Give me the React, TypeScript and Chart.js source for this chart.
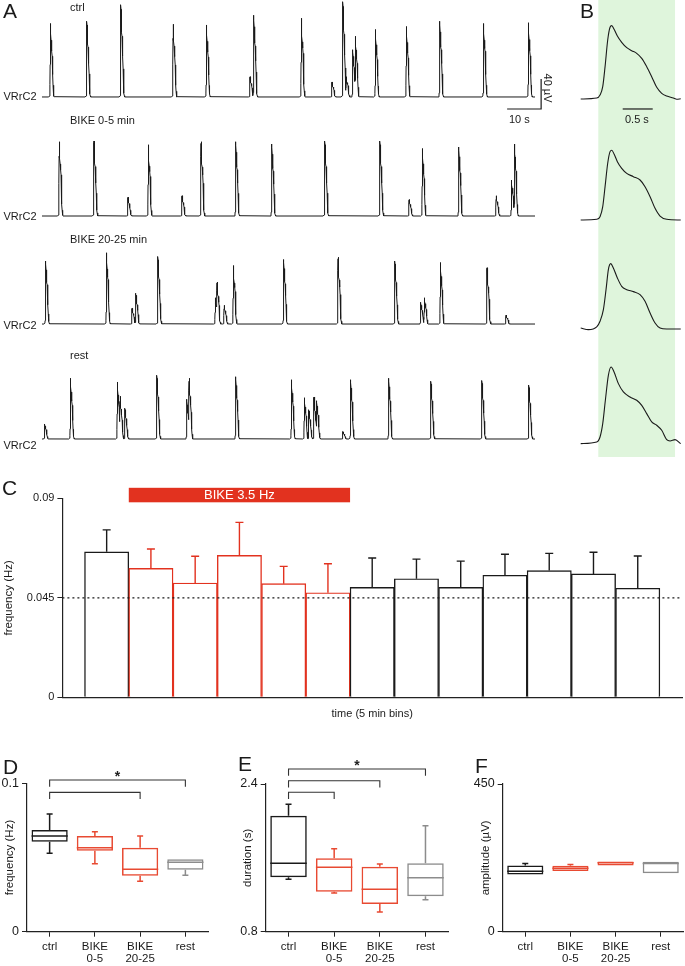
import React, { useEffect, useRef } from 'react';
import { Chart, registerables } from 'chart.js';
Chart.register(...registerables);

const FONT = '"Liberation Sans", Arial, Helvetica, sans-serif';
const TEXT = '#1a1a1a';
const AXIS = '#222222';
const BLACK = '#1a1a1a';
const RED = '#e2321f';
const BOX_RED = '#e84a32';
const GRAY = '#8c8c8c';
const GREEN = '#dff5dc';

// ---------------- Panel A: burst times (s) and peak amplitudes (µV) ----------------
const A_TRACE_LABELS = ['ctrl', 'BIKE 0-5 min', 'BIKE 20-25 min', 'rest'];
const A_TRACE_END_S = 145;
const CTRL_BURST_S = [2.5, 13.2, 23.2, 38.6, 48.4, 61.2, 62.3, 76.3, 85.3, 88.5, 89.5, 91.4, 92.2, 98.1, 107.2, 117.0, 129.9, 143.1];
const CTRL_BURST_UV = [98, 101, 123, 97, 96, 27, 109, 105, 20, 127, 27, 63, 81, 90, 94, 101, 98, 99];
const BIKE05_BURST_S = [5.1, 15.3, 25.3, 31.3, 41.2, 46.8, 57.0, 67.6, 83.2, 99.4, 108.0, 111.9, 122.6, 133.6, 138.1, 139.0];
const BIKE05_BURST_UV = [99, 100, 25, 95, 27, 99, 99, 96, 100, 100, 22, 90, 92, 27, 48, 96];
const BIKE2025_BURST_S = [1.1, 19.0, 26.5, 27.6, 34.1, 51.0, 51.5, 53.6, 56.3, 71.1, 87.1, 103.8, 111.4, 112.5, 117.2, 130.9, 136.5];
const BIKE2025_BURST_UV = [84, 95, 21, 41, 90, 35, 56, 25, 78, 86, 89, 84, 29, 35, 82, 75, 12];
const REST_BURST_S = [0.8, 8.4, 22.2, 23.0, 24.4, 33.8, 42.6, 43.3, 57.0, 73.4, 77.2, 78.5, 80.0, 80.8, 88.5, 90.8, 102.0, 114.4, 129.4, 143.2];
const REST_BURST_UV = [20, 81, 76, 57, 41, 85, 53, 81, 83, 79, 55, 39, 56, 51, 10, 79, 81, 77, 78, 72];

// ---------------- Panel B: averaged burst waveforms (time s, µV) ----------------
const WAVE_CTRL_T = [0, 0.267, 0.322, 0.367, 0.406, 0.45, 0.489, 0.517, 0.556, 0.611, 0.683, 0.767, 0.85, 0.933, 1.017, 1.1, 1.183, 1.267, 1.35, 1.433, 1.544, 1.6, 1.667];
const WAVE_CTRL_UV = [0, 1.3, 5.3, 16.4, 43.1, 78.7, 95.6, 97.8, 92.9, 84, 75.6, 68.4, 64.4, 60.9, 54.2, 43.1, 29.8, 15.6, 7.6, 4, 1.3, -0.4, 0.4];
const WAVE_B05_T = [0, 0.267, 0.322, 0.367, 0.406, 0.45, 0.489, 0.517, 0.556, 0.611, 0.683, 0.767, 0.878, 0.989, 1.072, 1.156, 1.239, 1.322, 1.433, 1.667];
const WAVE_B05_UV = [0, 0.9, 4.4, 17.8, 44.4, 75.6, 91.1, 92.9, 88, 77.8, 68.9, 62.2, 57.8, 53.3, 44.4, 31.1, 15.6, 5.3, 0.9, 0];
const WAVE_B2025_T = [0, 0.128, 0.267, 0.322, 0.378, 0.422, 0.461, 0.5, 0.544, 0.611, 0.683, 0.767, 0.878, 0.989, 1.072, 1.156, 1.239, 1.322, 1.433, 1.667];
const WAVE_B2025_UV = [1.3, -0.9, 2.7, 10.2, 25.8, 52.4, 79.1, 87.1, 81.3, 68, 56.9, 52.4, 49.8, 45.8, 36.9, 21.3, 8, 1.3, 0, 0];
const WAVE_REST_T = [0, 0.267, 0.322, 0.367, 0.411, 0.461, 0.506, 0.556, 0.628, 0.711, 0.822, 0.933, 1.017, 1.1, 1.183, 1.267, 1.35, 1.433, 1.489, 1.572, 1.667];
const WAVE_REST_UV = [-0.9, 1.3, 8, 25.8, 56.9, 90.2, 101.3, 94.7, 79.1, 68, 61.3, 56.9, 50.2, 39.1, 28, 23.6, 16.9, 4.4, 2.7, 4.4, -0.9];

// ---------------- Panel C: frequency per 5-min bin ----------------
const C_BINS = [1, 2, 3, 4, 5, 6, 7, 8, 9, 10, 11, 12, 13];
const C_FREQ_MEAN = [0.0658, 0.0583, 0.0517, 0.0642, 0.0514, 0.0473, 0.0497, 0.0536, 0.0497, 0.0552, 0.0573, 0.0558, 0.0493];
const C_FREQ_SEM = [0.0099, 0.0088, 0.0121, 0.0149, 0.0078, 0.0131, 0.0133, 0.0089, 0.0119, 0.0095, 0.0078, 0.0098, 0.0146];
const C_BIKE_BINS = [2, 6];
const C_BIKE_LABEL = 'BIKE 3.5 Hz';
const C_REF_LINE = 0.045;
const C_YTICKS = [0, 0.045, 0.09];

// ---------------- Panels D/E/F: box plots ----------------
const GROUPS = ['ctrl', ['BIKE', '0-5'], ['BIKE', '20-25'], 'rest'];
const D_MIN = [0.0528, 0.0458, 0.0340, 0.0380];
const D_Q1 = [0.0606, 0.0546, 0.0377, 0.0418];
const D_MED = [0.0645, 0.0566, 0.0420, 0.0468];
const D_Q3 = [0.0685, 0.0645, 0.0566, 0.0488];
const D_MAX = [0.0793, 0.0674, 0.0645, 0.0488];
const D_YTICKS = [0, 0.1];
const E_MIN = [1.368, 1.219, 1.013, 1.147];
const E_Q1 = [1.389, 1.233, 1.100, 1.183];
const E_MED = [1.541, 1.498, 1.259, 1.385];
const E_Q3 = [2.057, 1.595, 1.504, 1.541];
const E_MAX = [2.180, 1.699, 1.533, 1.948];
const E_YTICKS = [0.8, 2.4];
const F_MIN = [174, 185, 202, 178];
const F_Q1 = [174, 185, 202, 178];
const F_MED = [184, 193, 210, 208];
const F_Q3 = [202, 201, 214, 213];
const F_MAX = [208, 205, 214, 213];
const F_YTICKS = [0, 450];
const D_BRACKETS = [{ from: 0, to: 3, y: 0.1022, star: true }, { from: 0, to: 2, y: 0.0939, star: false }];
const E_BRACKETS = [
  { from: 0, to: 3, y: 2.5625, star: true },
  { from: 0, to: 2, y: 2.4357, star: false },
  { from: 0, to: 1, y: 2.3101, star: false },
];
const GROUP_COLORS = [BLACK, BOX_RED, BOX_RED, GRAY];

// ---------------- helpers ----------------
function templateAt(t: number, T: number[], V: number[]) {
  if (t <= T[0] || t >= T[T.length - 1]) return 0;
  for (let i = 1; i < T.length; i++) {
    if (t <= T[i]) {
      const f = (t - T[i - 1]) / (T[i] - T[i - 1]);
      return V[i - 1] + f * (V[i] - V[i - 1]);
    }
  }
  return 0;
}

function buildTrace(times: number[], amps: number[], offset: number) {
  const T = WAVE_CTRL_T, V = WAVE_CTRL_UV;
  let pk = 0;
  V.forEach((v, i) => { if (v > V[pk]) pk = i; });
  const tPeak = T[pk], vPeak = V[pk];
  const xs = new Set<number>([0, A_TRACE_END_S]);
  times.forEach(tb => T.forEach(t => {
    const x = +(tb - tPeak + t).toFixed(3);
    if (x >= 0 && x <= A_TRACE_END_S) xs.add(x);
  }));
  const sorted = Array.from(xs).sort((a, b) => a - b);
  return sorted.map(x => {
    let y = 0;
    times.forEach((tb, k) => {
      const v = (templateAt(x - tb + tPeak, T, V) * amps[k]) / vPeak;
      if (v > y) y = v;
    });
    return { x, y: y + offset };
  });
}

const noLegend = { legend: { display: false }, tooltip: { enabled: false } };

// ---------------- configs ----------------
const A_UV_MAX = 613.3;
const A_OFFSETS = [484, 325.3, 181.3, 28];
const B_OFFSETS = [481.3, 320, 174.7, 22.7];
const SCALE_S = 10;
const SCALE_UV = 40;

function configA() {
  const series = [
    [CTRL_BURST_S, CTRL_BURST_UV],
    [BIKE05_BURST_S, BIKE05_BURST_UV],
    [BIKE2025_BURST_S, BIKE2025_BURST_UV],
    [REST_BURST_S, REST_BURST_UV],
  ];
  return {
    type: 'line',
    data: {
      datasets: series.map((s, i) => ({
        label: A_TRACE_LABELS[i],
        data: buildTrace(s[0], s[1], A_OFFSETS[i]),
        borderColor: BLACK, borderWidth: 1, pointRadius: 0, tension: 0,
      })),
    },
    options: {
      responsive: false, animation: false, devicePixelRatio: 1,
      layout: { padding: 0 },
      plugins: noLegend,
      scales: {
        x: { type: 'linear', min: -12.35, max: 152.35, display: false },
        y: { type: 'linear', min: 0, max: A_UV_MAX, display: false },
      },
    },
    plugins: [{
      id: 'scaleBarA',
      afterDatasetsDraw(chart: any) {
        const { ctx, scales: { x, y } } = chart;
        const xe = x.getPixelForValue(146.8), xs = x.getPixelForValue(146.8 - SCALE_S);
        const y0 = y.getPixelForValue(468), y1 = y.getPixelForValue(468 + SCALE_UV);
        ctx.save();
        ctx.strokeStyle = BLACK; ctx.lineWidth = 1.2;
        ctx.beginPath(); ctx.moveTo(xs, y0); ctx.lineTo(xe, y0); ctx.lineTo(xe, y1); ctx.stroke();
        ctx.restore();
      },
    }],
  };
}

function configB() {
  const waves = [
    [WAVE_CTRL_T, WAVE_CTRL_UV],
    [WAVE_B05_T, WAVE_B05_UV],
    [WAVE_B2025_T, WAVE_B2025_UV],
    [WAVE_REST_T, WAVE_REST_UV],
  ];
  return {
    type: 'line',
    data: {
      datasets: waves.map((w, i) => ({
        label: A_TRACE_LABELS[i],
        data: w[0].map((t, k) => ({ x: t, y: w[1][k] + B_OFFSETS[i] })),
        borderColor: BLACK, borderWidth: 1.1, pointRadius: 0, tension: 0.35, cubicInterpolationMode: 'monotone',
      })),
    },
    options: {
      responsive: false, animation: false, devicePixelRatio: 1,
      layout: { padding: 0 },
      plugins: noLegend,
      scales: {
        x: { type: 'linear', min: -0.345, max: 1.738, display: false },
        y: { type: 'linear', min: 0, max: A_UV_MAX, display: false },
      },
    },
    plugins: [{
      id: 'greenBand',
      beforeDatasetsDraw(chart: any) {
        const { ctx, scales: { x } } = chart;
        const x0 = x.getPixelForValue(0.293), x1 = x.getPixelForValue(1.572);
        ctx.save(); ctx.fillStyle = GREEN; ctx.fillRect(x0, 0, x1 - x0, 457); ctx.restore();
      },
      afterDatasetsDraw(chart: any) {
        const { ctx, scales: { x, y } } = chart;
        const xs = x.getPixelForValue(0.7), xe = x.getPixelForValue(1.2), y0 = y.getPixelForValue(468);
        ctx.save(); ctx.strokeStyle = BLACK; ctx.lineWidth = 1.2;
        ctx.beginPath(); ctx.moveTo(xs, y0); ctx.lineTo(xe, y0); ctx.stroke(); ctx.restore();
      },
    }],
  };
}

function configC() {
  const colors = C_BINS.map(b => (b >= C_BIKE_BINS[0] && b <= C_BIKE_BINS[1] ? RED : BLACK));
  return {
    type: 'bar',
    data: {
      datasets: [
        {
          type: 'line',
          data: [{ x: -1, y: C_REF_LINE }, { x: 13, y: C_REF_LINE }],
          borderColor: BLACK, borderWidth: 1.3, borderDash: [2, 3], pointRadius: 0, order: 0,
        },
        {
          type: 'bar',
          data: C_FREQ_MEAN.map((v, i) => ({ x: i, y: v })),
          backgroundColor: '#ffffff', borderColor: colors, borderWidth: 1.4,
          barPercentage: 1, categoryPercentage: 1, order: 1,
        },
      ],
    },
    options: {
      responsive: false, animation: false, devicePixelRatio: 1,
      layout: { padding: { left: 0, right: 3, top: 28.3, bottom: 0 } },
      plugins: noLegend,
      scales: {
        x: {
          type: 'linear', min: -1, max: 13, offset: false,
          ticks: { display: false }, grid: { display: false },
          border: { display: true, color: AXIS, width: 1.2 },
          title: { display: true, text: 'time (5 min bins)', color: TEXT, font: { family: FONT, size: 11 }, padding: { top: 0, bottom: 4 } },
          afterFit: (s: any) => { s.height = 27.7; },
        },
        y: {
          type: 'linear', min: 0, max: 0.09,
          afterBuildTicks: (s: any) => { s.ticks = C_YTICKS.map(v => ({ value: v })); },
          ticks: { color: TEXT, font: { family: FONT, size: 11 }, padding: 3, callback: (v: number) => String(+v.toFixed(3)) },
          grid: { drawOnChartArea: false, tickLength: 5, color: AXIS, lineWidth: 1 },
          border: { color: AXIS, width: 1.2 },
          title: { display: true, text: 'frequency (Hz)', color: TEXT, font: { family: FONT, size: 11.5 }, padding: { top: 2, bottom: 0 } },
          afterFit: (s: any) => { s.width = 62.4; },
        },
      },
    },
    plugins: [{
      id: 'errBanner',
      afterDatasetsDraw(chart: any) {
        const { ctx, scales: { x, y }, chartArea } = chart;
        const meta = chart.getDatasetMeta(1);
        ctx.save();
        meta.data.forEach((el: any, i: number) => {
          const yt = y.getPixelForValue(C_FREQ_MEAN[i] + C_FREQ_SEM[i]);
          ctx.strokeStyle = colors[i]; ctx.lineWidth = 1.4;
          ctx.beginPath();
          ctx.moveTo(el.x, el.y); ctx.lineTo(el.x, yt);
          ctx.moveTo(el.x - 4, yt); ctx.lineTo(el.x + 4, yt);
          ctx.stroke();
        });
        const x0 = x.getPixelForValue(C_BIKE_BINS[0] - 1 - 0.5);
        const x1 = x.getPixelForValue(C_BIKE_BINS[1] - 1 + 0.5);
        const top = chartArea.top - 10.5;
        ctx.fillStyle = RED;
        ctx.fillRect(x0, top, x1 - x0, 14.5);
        ctx.fillStyle = '#ffffff';
        ctx.font = `13px ${FONT}`;
        ctx.textAlign = 'center'; ctx.textBaseline = 'middle';
        ctx.fillText(C_BIKE_LABEL, (x0 + x1) / 2, top + 7.5);
        ctx.restore();
      },
    }],
  };
}

function boxConfig(o: any) {
  const { min, q1, med, q3, max, yMin, yMax, yTicks, yTitle, yWidth, padRight, padTop, titlePad, brackets } = o;
  return {
    type: 'bar',
    data: {
      labels: GROUPS,
      datasets: [{
        data: q1.map((v: number, i: number) => [v, q3[i]]),
        backgroundColor: 'rgba(255,255,255,0)', borderColor: GROUP_COLORS, borderWidth: 1.5,
        borderSkipped: false, barPercentage: 0.8, categoryPercentage: 1,
      }],
    },
    options: {
      responsive: false, animation: false, devicePixelRatio: 1,
      layout: { padding: { left: 0, right: padRight, top: padTop, bottom: 0 } },
      plugins: noLegend,
      scales: {
        x: {
          type: 'category', offset: true,
          grid: { display: true, drawOnChartArea: false, offset: false, tickLength: 5, color: AXIS, lineWidth: 1 },
          border: { color: AXIS, width: 1.2 },
          ticks: { color: TEXT, font: { family: FONT, size: 11.5, lineHeight: 1.05 }, padding: 4, maxRotation: 0, autoSkip: false },
          afterFit: (s: any) => { s.height = 34.3; },
        },
        y: {
          type: 'linear', min: yMin, max: yMax,
          afterBuildTicks: (s: any) => { s.ticks = yTicks.map((v: number) => ({ value: v })); },
          ticks: { color: TEXT, font: { family: FONT, size: 12.5 }, padding: 3, callback: (v: number) => String(+v.toFixed(3)) },
          grid: { drawOnChartArea: false, tickLength: 5, color: AXIS, lineWidth: 1 },
          border: { color: AXIS, width: 1.2 },
          title: { display: true, text: yTitle, color: TEXT, font: { family: FONT, size: 11.5 }, padding: { top: titlePad, bottom: 0 } },
          afterFit: (s: any) => { s.width = yWidth; },
        },
      },
    },
    plugins: [{
      id: 'boxWhisker',
      afterDatasetsDraw(chart: any) {
        const { ctx, scales: { x, y } } = chart;
        const meta = chart.getDatasetMeta(0);
        ctx.save();
        ctx.lineWidth = 1.5;
        meta.data.forEach((el: any, i: number) => {
          const w = el.width / 2;
          ctx.strokeStyle = GROUP_COLORS[i];
          ctx.beginPath();
          const ym = y.getPixelForValue(med[i]);
          ctx.moveTo(el.x - w, ym); ctx.lineTo(el.x + w, ym);
          const yq3 = y.getPixelForValue(q3[i]), ymax = y.getPixelForValue(max[i]);
          if (max[i] > q3[i]) { ctx.moveTo(el.x, yq3); ctx.lineTo(el.x, ymax); ctx.moveTo(el.x - 3, ymax); ctx.lineTo(el.x + 3, ymax); }
          const yq1 = y.getPixelForValue(q1[i]), ymin = y.getPixelForValue(min[i]);
          if (min[i] < q1[i]) { ctx.moveTo(el.x, yq1); ctx.lineTo(el.x, ymin); ctx.moveTo(el.x - 3, ymin); ctx.lineTo(el.x + 3, ymin); }
          ctx.stroke();
        });
        ctx.strokeStyle = '#333333'; ctx.lineWidth = 1.1;
        (brackets || []).forEach((b: any) => {
          const x0 = x.getPixelForValue(b.from), x1 = x.getPixelForValue(b.to), yb = y.getPixelForValue(b.y);
          ctx.beginPath();
          ctx.moveTo(x0, yb + 6.7); ctx.lineTo(x0, yb); ctx.lineTo(x1, yb); ctx.lineTo(x1, yb + 6.7);
          ctx.stroke();
          if (b.star) {
            ctx.fillStyle = '#222222';
            ctx.font = `bold 14px ${FONT}`;
            ctx.textAlign = 'center'; ctx.textBaseline = 'middle';
            ctx.fillText('*', (x0 + x1) / 2, yb - 3);
          }
        });
        ctx.restore();
      },
    }],
  };
}

function ChartCanvas({ left, top, width, height, make }: any) {
  const ref = useRef<HTMLCanvasElement>(null);
  useEffect(() => {
    const chart = new Chart(ref.current as HTMLCanvasElement, make());
    return () => chart.destroy();
  }, []);
  return (
    <canvas ref={ref} width={width} height={height}
      style={{ position: 'absolute', left, top, width, height }} />
  );
}

function Label({ x, y, size = 11, children, style = {} }: any) {
  return (
    <div style={{ position: 'absolute', left: x, top: y, fontSize: size, lineHeight: 1, fontFamily: FONT, color: TEXT, whiteSpace: 'nowrap', ...style }}>
      {children}
    </div>
  );
}

export default function App() {
  return (
    <div style={{ position: 'absolute', left: 0, top: 0, width: 685, height: 966, background: '#ffffff', overflow: 'hidden', fontFamily: FONT }}>
      <ChartCanvas left={0} top={0} width={560} height={460} make={configA} />
      <ChartCanvas left={560} top={0} width={125} height={460} make={configB} />
      <ChartCanvas left={0} top={470} width={685} height={255} make={configC} />
      <ChartCanvas left={0} top={740} width={230} height={226} make={() => boxConfig({
        min: D_MIN, q1: D_Q1, med: D_MED, q3: D_Q3, max: D_MAX, yMin: 0, yMax: 0.1, yTicks: D_YTICKS,
        yTitle: 'frequency (Hz)', yWidth: 27, padRight: 22, padTop: 43.3, titlePad: 3, brackets: D_BRACKETS,
      })} />
      <ChartCanvas left={230} top={740} width={230} height={226} make={() => boxConfig({
        min: E_MIN, q1: E_Q1, med: E_MED, q3: E_Q3, max: E_MAX, yMin: 0.8, yMax: 2.4, yTicks: E_YTICKS,
        yTitle: 'duration (s)', yWidth: 35.7, padRight: 11.7, padTop: 44, titlePad: 10.6, brackets: E_BRACKETS,
      })} />
      <ChartCanvas left={455} top={740} width={230} height={226} make={() => boxConfig({
        min: F_MIN, q1: F_Q1, med: F_MED, q3: F_Q3, max: F_MAX, yMin: 0, yMax: 450, yTicks: F_YTICKS,
        yTitle: 'amplitude (µV)', yWidth: 47.7, padRight: 1.7, padTop: 44, titlePad: 24, brackets: [],
      })} />

      {/* panel letters */}
      <Label x={3} y={0} size={21}>A</Label>
      <Label x={580} y={0} size={21}>B</Label>
      <Label x={2} y={477} size={21}>C</Label>
      <Label x={3} y={756} size={21}>D</Label>
      <Label x={238} y={753} size={21}>E</Label>
      <Label x={475} y={755} size={21}>F</Label>

      {/* trace titles */}
      <Label x={70} y={2}>{A_TRACE_LABELS[0]}</Label>
      <Label x={70} y={115}>{A_TRACE_LABELS[1]}</Label>
      <Label x={70} y={234}>{A_TRACE_LABELS[2]}</Label>
      <Label x={70} y={350}>{A_TRACE_LABELS[3]}</Label>
      {[96, 216.7, 325, 445].map((yc, i) => (
        <Label key={i} x={3.5} y={yc - 5.5}>VRrC2</Label>
      ))}
      <Label x={509} y={113.5}>10 s</Label>
      <Label x={625} y={113.5}>0.5 s</Label>
      <Label x={547} y={88} style={{ transform: 'translate(-50%, -50%) rotate(90deg)' }}>40 µV</Label>
    </div>
  );
}
